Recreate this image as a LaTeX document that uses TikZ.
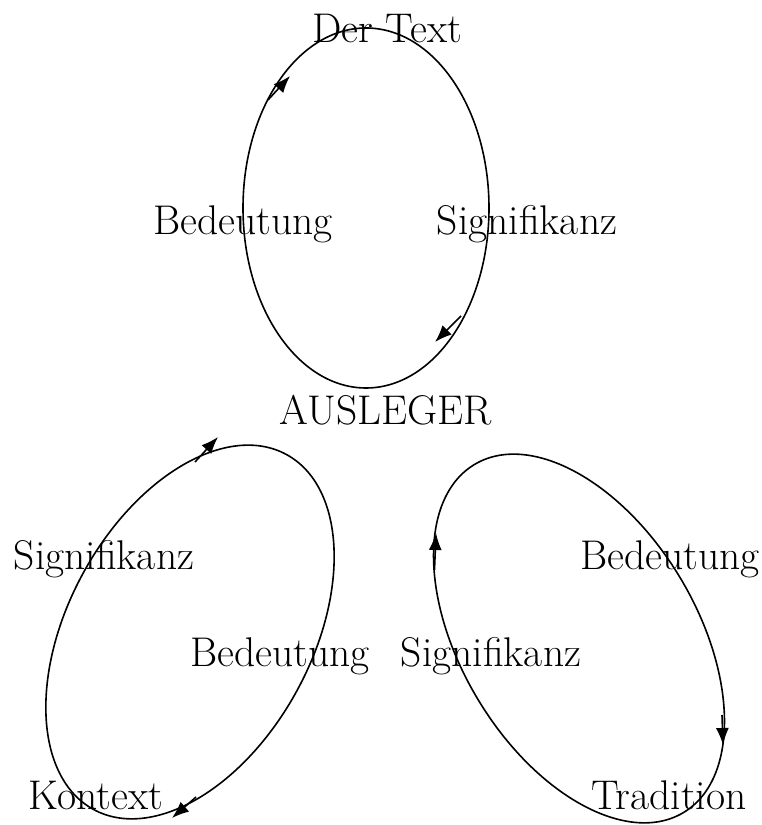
\documentclass[tikz,border=0pt]{standalone}
\usetikzlibrary{arrows.meta}
\begin{document}
\begin{tikzpicture}[x=1pt,y=1pt,
  lbl/.style={anchor=base,inner sep=0pt,font=\fontsize{41.5}{43}\selectfont},
  loop/.style={line width=1.6pt},
  tip/.style={line width=1.6pt,-{Latex[length=17pt,width=13pt]}}]
\useasboundingbox (0,0) rectangle (762,825);
% ellipses
\draw[loop] (366,617) ellipse [x radius=123, y radius=180];
\draw[loop] (190,193) ellipse [x radius=202, y radius=122, rotate=61.5];
\draw[loop] (579,186.5) ellipse [x radius=203, y radius=118, rotate=-59];
% labels
\node[lbl] (dertext) at (387,782) {Der Text};
\node[lbl] (bed1) at (243,590) {Bedeutung};
\node[lbl] (sig1) at (527,590) {Signifikanz};
\node[lbl] (ausleger) at (386,400) {AUSLEGER};
\node[lbl] (sig2) at (104,255) {Signifikanz};
\node[lbl] (bed2) at (280,158) {Bedeutung};
\node[lbl] (kontext) at (96,15) {Kontext};
\node[lbl] (bed3) at (670,255) {Bedeutung};
\node[lbl] (sig3) at (491,158) {Signifikanz};
\node[lbl] (tradition) at (669,15) {Tradition};
% arrow marks
\coordinate (a1s) at (268,725); \coordinate (a1e) at (290,749);
\coordinate (a2s) at (461,509); \coordinate (a2e) at (435,483);
\coordinate (a3s) at (195,363); \coordinate (a3e) at (218,388);
\coordinate (a4s) at (196,28);  \coordinate (a4e) at (172,7);
\coordinate (a5s) at (434.5,255); \coordinate (a5e) at (436,292);
\coordinate (a6s) at (722,110); \coordinate (a6e) at (723,80);
\draw[tip] (a1s) -- (a1e);
\draw[tip] (a2s) -- (a2e);
\draw[tip] (a3s) -- (a3e);
\draw[tip] (a4s) -- (a4e);
\draw[tip] (a5s) -- (a5e);
\draw[tip] (a6s) -- (a6e);
\end{tikzpicture}
\end{document}
